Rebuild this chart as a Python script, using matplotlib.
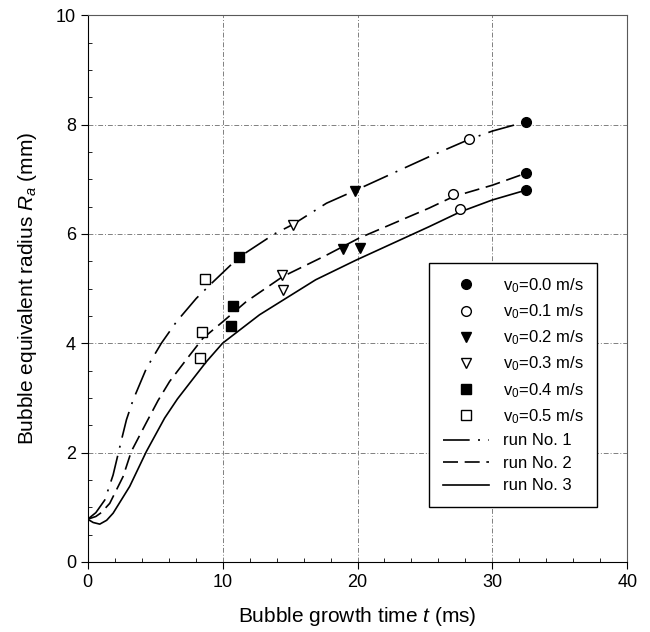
import matplotlib
matplotlib.use('Agg')
import matplotlib.pyplot as plt
from matplotlib.ticker import MultipleLocator

plt.rcParams['font.family'] = ['Liberation Sans', 'DejaVu Sans']
plt.rcParams['mathtext.fontset'] = 'custom'
plt.rcParams['mathtext.rm'] = 'Liberation Sans'
plt.rcParams['mathtext.it'] = 'Liberation Sans:italic'

# measured points (t in ms, Ra in mm)
t_v00 = [32.5, 32.5, 32.5]
r_v00 = [8.05, 7.11, 6.80]
t_v01 = [28.3, 27.1, 27.6]
r_v01 = [7.73, 6.73, 6.45]
t_v02 = [19.8, 18.9, 20.2]
r_v02 = [6.79, 5.73, 5.75]
t_v03 = [15.2, 14.4, 14.5]
r_v03 = [6.16, 5.24, 4.98]
t_v04 = [11.2, 10.8, 10.6]
r_v04 = [5.57, 4.68, 4.31]
t_v05 = [8.7, 8.5, 8.3]
r_v05 = [5.17, 4.20, 3.73]

# calculated curves
t_run1 = [0.0, 0.6, 1.26, 1.88, 2.5, 2.87, 3.36, 4.35, 5.46, 6.57, 8.05, 9.16,
          11.2, 12.0, 13.85, 15.2, 17.7, 19.8, 25.3, 28.3, 30.0, 32.5]
r_run1 = [0.78, 0.90, 1.13, 1.59, 2.23, 2.60, 2.96, 3.54, 4.00, 4.39, 4.82, 5.09,
          5.57, 5.70, 6.00, 6.17, 6.56, 6.79, 7.41, 7.73, 7.88, 8.05]
t_run2 = [0.0, 0.6, 1.0, 1.63, 2.62, 3.23, 4.35, 5.21, 6.07, 7.56, 8.54, 10.0,
          11.75, 14.47, 17.7, 20.1, 25.3, 27.1, 30.0, 32.5]
r_run2 = [0.78, 0.83, 0.90, 1.07, 1.56, 2.02, 2.55, 2.95, 3.30, 3.78, 4.09, 4.39,
          4.76, 5.22, 5.61, 5.92, 6.47, 6.68, 6.89, 7.11]
t_run3 = [0.0, 0.4, 0.89, 1.4, 1.88, 3.11, 4.35, 5.70, 6.65, 7.56, 8.79, 10.0,
          12.74, 16.9, 19.9, 25.3, 27.6, 30.0, 32.5]
r_run3 = [0.78, 0.72, 0.69, 0.76, 0.89, 1.38, 2.02, 2.63, 2.98, 3.27, 3.66, 4.00,
          4.52, 5.16, 5.52, 6.13, 6.40, 6.62, 6.80]

fig = plt.figure(figsize=(6.5, 6.32), dpi=100)
ax = fig.add_axes([0.135, 0.111, 0.83, 0.865])

ms = 7
ax.plot(t_v00, r_v00, 'o', color='k', ms=ms, linestyle='none', label='v$_0$=0.0 m/s', zorder=4)
ax.plot(t_v01, r_v01, 'o', mfc='white', mec='k', ms=ms, linestyle='none', label='v$_0$=0.1 m/s', zorder=4)
ax.plot(t_v02, r_v02, 'v', color='k', ms=ms + 0.5, linestyle='none', label='v$_0$=0.2 m/s', zorder=4)
ax.plot(t_v03, r_v03, 'v', mfc='white', mec='k', ms=ms + 0.5, linestyle='none', label='v$_0$=0.3 m/s', zorder=4)
ax.plot(t_v04, r_v04, 's', color='k', ms=ms - 0.5, linestyle='none', label='v$_0$=0.4 m/s', zorder=4)
ax.plot(t_v05, r_v05, 's', mfc='white', mec='k', ms=ms - 0.5, linestyle='none', label='v$_0$=0.5 m/s', zorder=4)

ax.plot(t_run1, r_run1, color='k', lw=1.2, dashes=(16, 5, 1.2, 5), label='run No. 1', zorder=3)
ax.plot(t_run2, r_run2, color='k', lw=1.2, dashes=(9, 4), label='run No. 2', zorder=3)
ax.plot(t_run3, r_run3, color='k', lw=1.2, label='run No. 3', zorder=3)

ax.set_xlim(0, 40)
ax.set_ylim(0, 10)
ax.xaxis.set_major_locator(MultipleLocator(10))
ax.xaxis.set_minor_locator(MultipleLocator(2))
ax.yaxis.set_major_locator(MultipleLocator(2))
ax.yaxis.set_minor_locator(MultipleLocator(0.5))
ax.tick_params(which='major', direction='out', length=5, labelsize=13)
ax.tick_params(which='minor', direction='in', length=3)
for s in ['top', 'right']:
    ax.spines[s].set_color('0.35')

ax.grid(True, which='major', color='0.5', lw=0.7, dashes=(5, 2, 1, 2))
ax.set_axisbelow(True)

ax.set_xlabel('Bubble growth time $t$ (ms)', fontsize=15, labelpad=10)
ax.set_ylabel('Bubble equivalent radius $R_a$ (mm)', fontsize=15, labelpad=12)

leg = ax.legend(loc='upper left', bbox_to_anchor=(0.633, 0.547), fontsize=12,
                numpoints=1, handlelength=2.8, labelspacing=0.45, fancybox=False,
                framealpha=1, edgecolor='k', borderpad=0.8, borderaxespad=0)
leg.get_frame().set_linewidth(1.0)

fig.savefig('out.png', dpi=100)
